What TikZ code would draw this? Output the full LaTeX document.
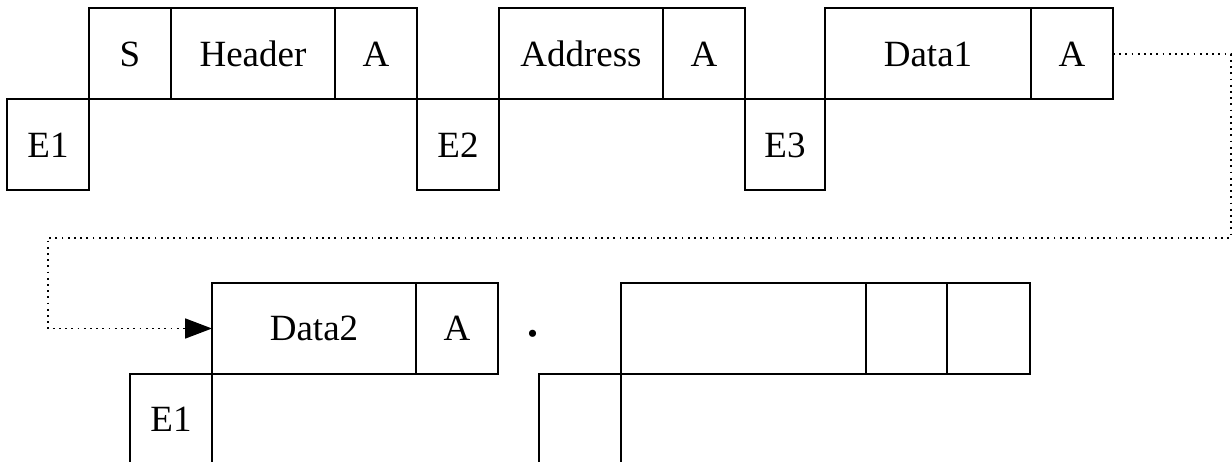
\documentclass[tikz,border=0pt]{standalone}
\usepackage{fontspec}
\setmainfont{Liberation Serif}
\usetikzlibrary{arrows.meta, positioning}

\begin{document}
\begin{tikzpicture}[
  x=1pt, y=1pt,
  node distance=0pt,
  every node/.style={font=\fontsize{18.5}{20}\selectfont},
  cell/.style={draw, line width=1pt, outer sep=0pt, inner sep=0pt, minimum height=45.5pt, minimum width=41pt},
  wide/.style={cell, minimum width=#1},
  link/.style={line width=0.9pt, dash pattern=on 0.9pt off 2.2pt, -{Triangle[length=13.5pt, width=10pt]}}
]
  \path[use as bounding box, clip] (0,0) rectangle (616,230.5);

  % first frame
  \node[cell, anchor=north west] (e1) at (3.5,180.75) {E1};
  \node[cell, anchor=south west] (s) at (e1.north east) {S};
  \node[wide=82pt, right=of s] (hdr) {Header};
  \node[cell, right=of hdr] (a1) {A};
  \node[cell, anchor=north west] (e2) at (a1.south east) {E2};
  \node[wide=82pt, anchor=south west] (addr) at (e2.north east) {Address};
  \node[cell, right=of addr] (a2) {A};
  \node[wide=40pt, anchor=north west] (e3) at (a2.south east) {E3};
  \node[wide=103pt, anchor=south west] (d1) at (e3.north east) {Data1};
  \node[cell, right=of d1] (a3) {A};

  % second frame
  \node[wide=102pt, anchor=south west] (d2) at (106,43.5) {Data2};
  \node[cell, anchor=north east] (e4) at (d2.south west) {E1};
  \node[cell, right=of d2] (a4) {A};
  \node[anchor=base, font=\fontsize{30}{32}\selectfont] (dot) at (266.65,62.2) {.};

  % empty frame
  \node[wide=122.4pt, anchor=south west] (blank) at (310.35,43.5) {};
  \node[cell, anchor=north east] (e5) at (blank.south west) {};
  \node[wide=40.9pt, right=of blank] (b1) {};
  \node[wide=41.2pt, right=of b1] (b2) {};

  % wrap-around link
  \coordinate (turn1) at (615.5,111.65);
  \coordinate (turn2) at (23.85,111.65);
  \draw[link] (a3.east) -- (a3.east -| turn1) -- (turn1) -- (turn2) -- (turn2 |- d2.west) -- (d2.west);

\end{tikzpicture}
\end{document}
